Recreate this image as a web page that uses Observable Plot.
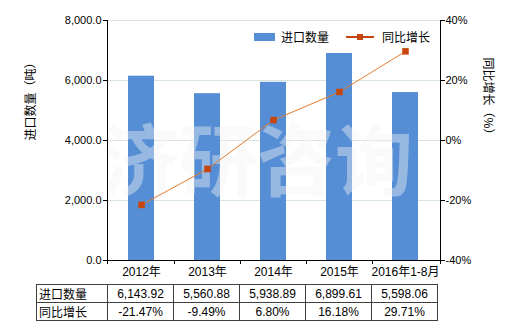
<!DOCTYPE html>
<html><head><meta charset="utf-8">
<script src="https://cdn.jsdelivr.net/npm/d3@7"></script>
<script src="https://cdn.jsdelivr.net/npm/@observablehq/plot@0.6"></script>
<style>
html,body{margin:0;padding:0;background:#fff;}
#wrap{position:relative;width:520px;height:330px;font-family:"Liberation Sans","Noto Sans CJK SC",sans-serif;}
#legend{position:absolute;left:254px;top:28px;font-size:12px;color:#000;display:flex;align-items:center;font-family:"Noto Sans CJK SC",sans-serif;}
#legend .sw{display:inline-block;width:21px;height:8px;background:#558ed5;margin-right:6px;}
#legend .ln{position:relative;display:inline-block;width:28px;height:8px;margin-left:17px;margin-right:8px;}
#legend .ln:before{content:"";position:absolute;left:0;right:0;top:3px;height:2px;background:#c5470e;}
#legend .ln:after{content:"";position:absolute;left:11px;top:1px;width:6px;height:6px;background:#c5470e;}
table{position:absolute;left:36px;top:284px;border-collapse:collapse;font-size:12px;font-family:"Liberation Sans","Noto Sans CJK SC",sans-serif;table-layout:fixed;}
td{border:1px solid #404040;height:17px;padding:0;text-align:center;line-height:16px;}
td.h{text-align:left;padding-left:2px;font-family:"Noto Sans CJK SC",sans-serif;}
</style></head>
<body><div id="wrap"></div>
<script>
const categories = ["2012年","2013年","2014年","2015年","2016年1-8月"];
const quantity = [6143.92, 5560.88, 5938.89, 6899.61, 5598.06];
const growth = [-21.47, -9.49, 6.80, 16.18, 29.71];
const quantityLabels = ["6,143.92","5,560.88","5,938.89","6,899.61","5,598.06"];
const growthLabels = ["-21.47%","-9.49%","6.80%","16.18%","29.71%"];
const leftTicks = [0, 2000, 4000, 6000, 8000];
const rightTicks = [-40, -20, 0, 20, 40];
const seriesNames = ["进口数量", "同比增长"];
const leftTitle = "进口数量（吨）";
const rightTitle = "同比增长（%）";
const watermark = "济研咨询";

// map percent onto the bar axis: -40% -> 0, 40% -> 8000
const toLeft = p => (p + 40) * 100;
const data = categories.map((c, i) => ({cat: c, q: quantity[i], g: growth[i], gy: toLeft(growth[i])}));

function frameLines(index, scales, values, dims) {
  const {width, height, marginLeft, marginRight, marginBottom} = dims;
  const l = marginLeft, r = width - marginRight, b = height - marginBottom, t = dims.marginTop;
  const g = d3.create("svg:g").attr("stroke", "#000").attr("stroke-width", 1).attr("shape-rendering", "crispEdges");
  g.append("line").attr("x1", l + 0.5).attr("x2", l + 0.5).attr("y1", t).attr("y2", b);
  g.append("line").attr("x1", r + 0.5).attr("x2", r + 0.5).attr("y1", t).attr("y2", b);
  const bw = scales.x.bandwidth ? scales.x.bandwidth() / 2 : 0;
  const cx = categories.map(c => scales.x(c) + bw);
  const bounds = [l];
  for (let i = 1; i < cx.length; i++) bounds.push((cx[i - 1] + cx[i]) / 2);
  bounds.push(r);
  for (const x of bounds) {
    g.append("line").attr("x1", Math.round(x) + 0.5).attr("x2", Math.round(x) + 0.5).attr("y1", b).attr("y2", b + 4);
  }
  return g.node();
}

const chart = Plot.plot({
  width: 520,
  height: 330,
  marginLeft: 107,
  marginRight: 80,
  marginTop: 20,
  marginBottom: 70,
  style: {fontFamily: "Liberation Sans, Noto Sans CJK SC, sans-serif", fontSize: "11px", color: "#000", background: "transparent"},
  x: {domain: categories, paddingInner: 0.6, paddingOuter: 0.3, axis: null},
  y: {domain: [0, 8000], axis: null},
  marks: [
    Plot.gridY(leftTicks.slice(1), {stroke: "#d6e4e0", strokeOpacity: 1}),
    Plot.barY(data, {x: "cat", y: "q", fill: "#558ed5"}),
    Plot.text([watermark], {frameAnchor: "middle", dx: -17, dy: 25, fontSize: 78, fontWeight: "bold", fill: "#f2f2f2", fillOpacity: 0.42, fontFamily: "Noto Sans CJK SC", letterSpacing: 12}),
    Plot.lineY(data, {x: "cat", y: "gy", stroke: "#e47c2e", strokeWidth: 1}),
    Plot.dot(data, {x: "cat", y: "gy", symbol: "square", r: 3.7, fill: "#c5470e", stroke: null}),
    Plot.ruleY([0], {stroke: "#000"}),
    frameLines,
    Plot.axisY({ticks: leftTicks, tickFormat: d3.format(",.1f"), tickSize: 4, tickPadding: 2, label: null, anchor: "left", fontSize: 11}),
    Plot.axisY({ticks: rightTicks.map(toLeft), tickFormat: d => (d / 100 - 40) + "%", tickSize: 4, tickPadding: 1, label: null, anchor: "right", fontSize: 11}),
    Plot.axisX({tickSize: 0, tickPadding: 7, label: null, fontSize: 12}),
    Plot.text([leftTitle], {frameAnchor: "left", dx: -76, dy: 0, rotate: -90, fontSize: 12, fontFamily: "Noto Sans CJK SC"}),
    Plot.text([rightTitle], {frameAnchor: "right", dx: 47, dy: 0, rotate: 90, fontSize: 12, fontFamily: "Noto Sans CJK SC"})
  ]
});

const wrap = document.getElementById("wrap");
wrap.appendChild(chart);

const legend = document.createElement("div");
legend.id = "legend";
legend.innerHTML = `<span class="sw"></span><span>${seriesNames[0]}</span><span class="ln"></span><span>${seriesNames[1]}</span>`;
wrap.appendChild(legend);

const table = document.createElement("table");
const colW = [71, 66, 66, 66, 66, 66];
let html = "<colgroup>" + colW.map(w => `<col style="width:${w}px">`).join("") + "</colgroup>";
html += `<tr><td class="h">${seriesNames[0]}</td>` + quantityLabels.map(v => `<td>${v}</td>`).join("") + "</tr>";
html += `<tr><td class="h">${seriesNames[1]}</td>` + growthLabels.map(v => `<td>${v}</td>`).join("") + "</tr>";
table.innerHTML = html;
wrap.appendChild(table);
</script>
</body></html>
